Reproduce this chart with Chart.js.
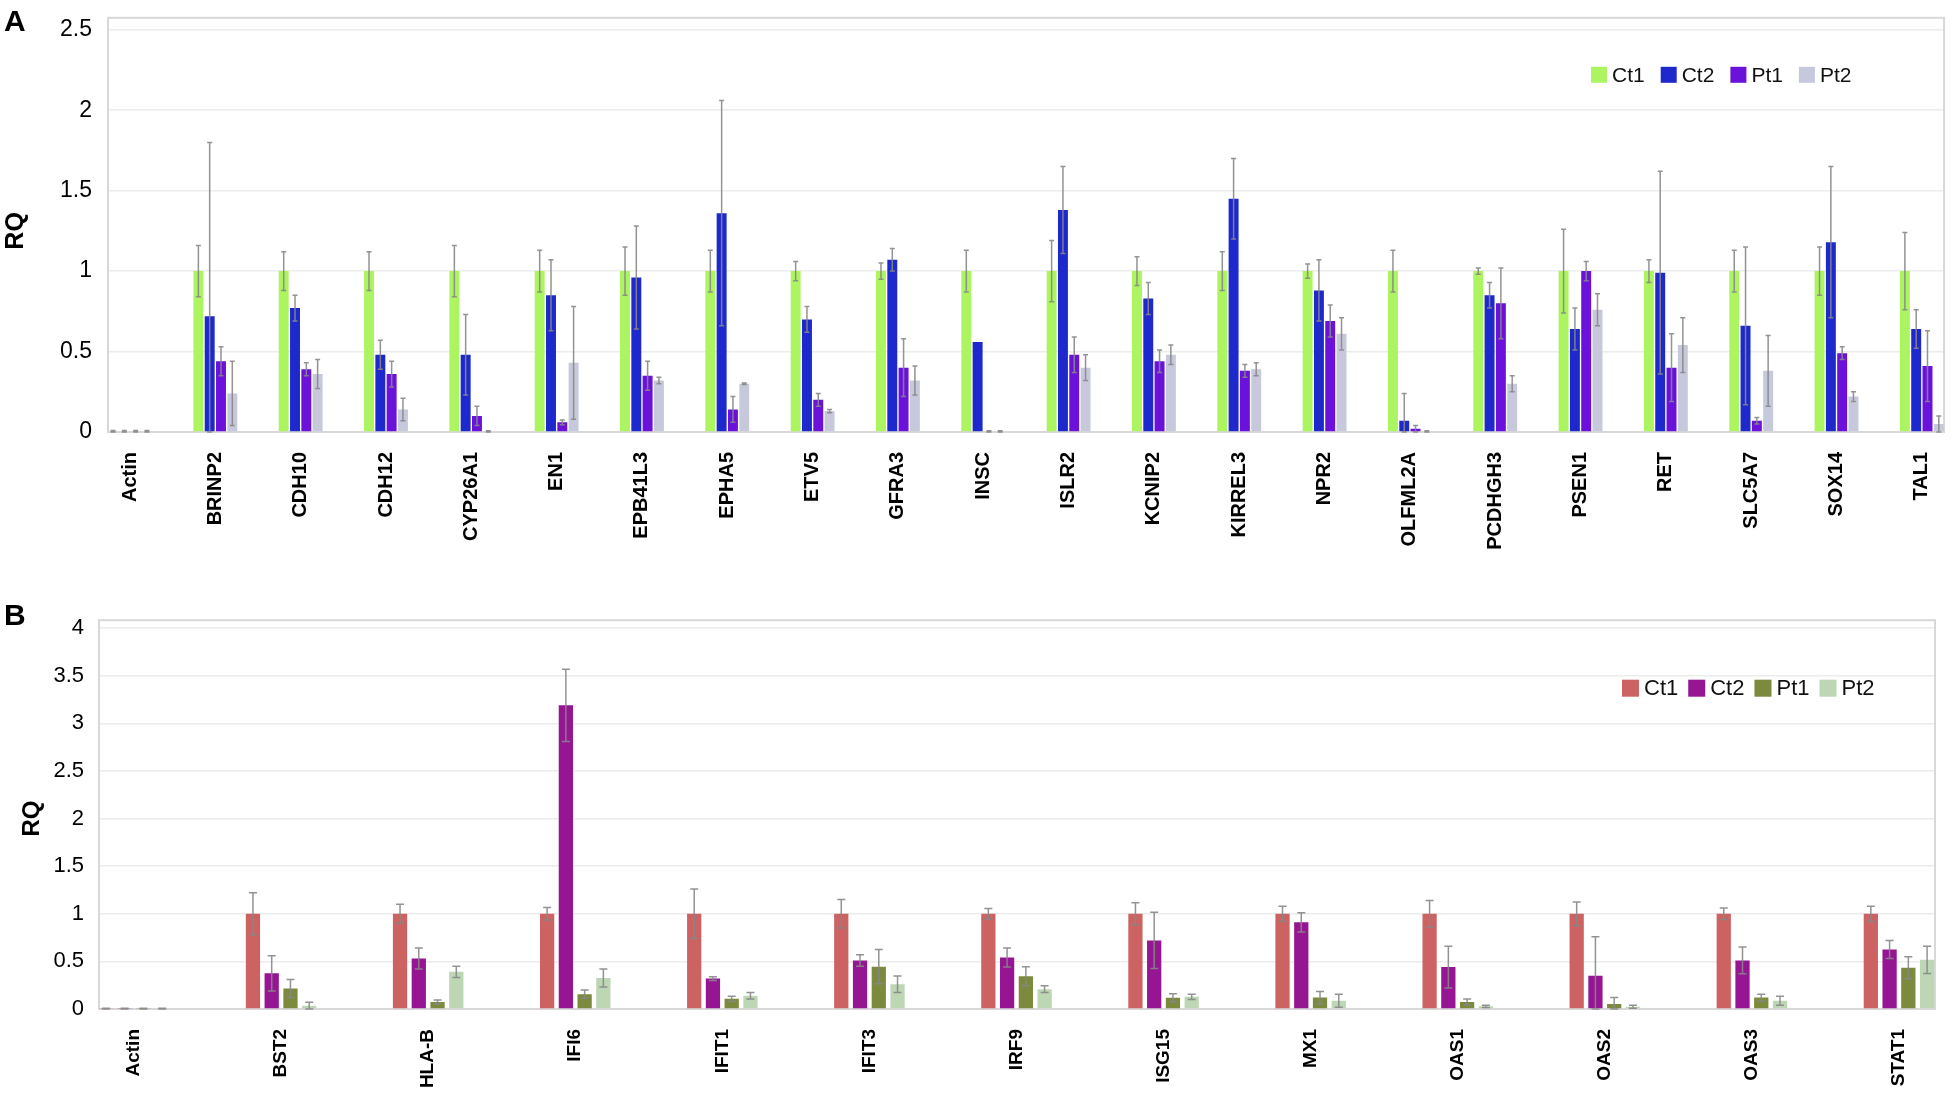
<!DOCTYPE html>
<html>
<head>
<meta charset="utf-8">
<script src="https://cdn.jsdelivr.net/npm/chart.js@4.4.0/dist/chart.umd.min.js"></script>
<style>
  body { margin: 0; background: #fff; width: 1958px; height: 1095px; overflow: hidden; position: relative; font-family: "Liberation Sans", Arial, sans-serif; }
  .panel { position: absolute; left: 0; width: 1958px; }
  #panelA { top: 0; height: 600px; }
  #panelB { top: 600px; height: 495px; }
  .letter { position: absolute; left: 4px; font-weight: bold; font-size: 30px; line-height: 1; color: #000; }
</style>
</head>
<body>
<div class="panel" id="panelA"><canvas id="chartA" width="1958" height="600"></canvas></div>
<div class="panel" id="panelB"><canvas id="chartB" width="1958" height="495"></canvas></div>
<div class="letter" style="top:6px">A</div>
<div class="letter" style="top:600px">B</div>

<script>
const seriesNames = ['Ct1', 'Ct2', 'Pt1', 'Pt2'];

// panel A
const genesA = ['Actin', 'BRINP2', 'CDH10', 'CDH12', 'CYP26A1', 'EN1', 'EPB41L3', 'EPHA5', 'ETV5', 'GFRA3', 'INSC',
  'ISLR2', 'KCNIP2', 'KIRREL3', 'NPR2', 'OLFML2A', 'PCDHGH3', 'PSEN1', 'RET', 'SLC5A7', 'SOX14', 'TAL1'];
const ct1A = [0.004, 1, 1, 1, 1, 1, 1, 1, 1, 1, 1, 1, 1, 1, 1, 1, 1, 1, 1, 1, 1, 1];
const ct1ErrA = [0.005, 0.16, 0.12, 0.12, 0.16, 0.13, 0.15, 0.13, 0.06, 0.05, 0.13, 0.19, 0.09, 0.12, 0.045, 0.13, 0.02, 0.26, 0.07, 0.13, 0.15, 0.24];
const ct2A = [0.004, 0.72, 0.77, 0.48, 0.48, 0.85, 0.96, 1.36, 0.70, 1.07, 0.56, 1.38, 0.83, 1.45, 0.88, 0.07, 0.85, 0.64, 0.99, 0.66, 1.18, 0.64];
const ct2ErrA = [0.005, 1.08, 0.08, 0.09, 0.25, 0.22, 0.32, 0.70, 0.08, 0.07, 0, 0.27, 0.10, 0.25, 0.19, 0.17, 0.08, 0.13, 0.63, 0.49, 0.47, 0.12];
const pt1A = [0.004, 0.44, 0.39, 0.36, 0.10, 0.06, 0.35, 0.14, 0.20, 0.40, 0.004, 0.48, 0.44, 0.38, 0.69, 0.02, 0.80, 1.0, 0.40, 0.07, 0.49, 0.41];
const pt1ErrA = [0.005, 0.09, 0.04, 0.08, 0.06, 0.015, 0.09, 0.08, 0.04, 0.18, 0.004, 0.11, 0.07, 0.04, 0.10, 0.02, 0.22, 0.06, 0.21, 0.02, 0.04, 0.22];
const pt2A = [0.004, 0.24, 0.36, 0.14, 0.004, 0.43, 0.32, 0.30, 0.13, 0.32, 0.004, 0.40, 0.48, 0.39, 0.61, 0.004, 0.30, 0.76, 0.54, 0.38, 0.22, 0.05];
const pt2ErrA = [0.005, 0.20, 0.09, 0.07, 0.004, 0.35, 0.02, 0.005, 0.01, 0.09, 0.004, 0.08, 0.06, 0.04, 0.10, 0.004, 0.05, 0.10, 0.17, 0.22, 0.03, 0.05];
const colorsA = ['#adf461', '#1d29cc', '#6a12d9', '#c6c9dc'];

// panel B
const genesB = ['Actin', 'BST2', 'HLA-B', 'IFI6', 'IFIT1', 'IFIT3', 'IRF9', 'ISG15', 'MX1', 'OAS1', 'OAS2', 'OAS3', 'STAT1'];
const ct1B = [0.004, 1, 1, 1, 1, 1, 1, 1, 1, 1, 1, 1, 1];
const ct1ErrB = [0.005, 0.22, 0.10, 0.065, 0.26, 0.15, 0.055, 0.115, 0.08, 0.14, 0.125, 0.06, 0.08];
const ct2B = [0.004, 0.375, 0.53, 3.19, 0.32, 0.51, 0.54, 0.72, 0.91, 0.44, 0.35, 0.51, 0.625];
const ct2ErrB = [0.005, 0.185, 0.11, 0.38, 0.02, 0.06, 0.10, 0.295, 0.10, 0.22, 0.41, 0.14, 0.095];
const pt1B = [0.004, 0.215, 0.073, 0.156, 0.108, 0.444, 0.344, 0.118, 0.12, 0.073, 0.052, 0.12, 0.434];
const pt1ErrB = [0.005, 0.095, 0.021, 0.044, 0.027, 0.18, 0.10, 0.042, 0.064, 0.031, 0.068, 0.036, 0.116];
const pt2B = [0.004, 0.035, 0.39, 0.326, 0.14, 0.26, 0.208, 0.128, 0.087, 0.028, 0.024, 0.087, 0.517];
const pt2ErrB = [0.005, 0.035, 0.06, 0.094, 0.034, 0.087, 0.035, 0.028, 0.069, 0.012, 0.016, 0.048, 0.143];
const colorsB = ['#cd6262', '#951593', '#7b8a3c', '#bdd7b5'];

Chart.defaults.font.family = '"Liberation Sans", Arial, sans-serif';

// error whiskers, placed with the chart's own y scale
const errorBars = {
  id: 'errorBars',
  afterDatasetsDraw(chart, args, opts) {
    const ctx = chart.ctx;
    const yScale = chart.scales.y;
    ctx.save();
    ctx.strokeStyle = opts.color;
    ctx.lineWidth = opts.width;
    chart.data.datasets.forEach((ds, i) => {
      chart.getDatasetMeta(i).data.forEach((bar, j) => {
        const v = ds.data[j].y;
        const e = ds.errors[j];
        if (!e) return;
        const top = yScale.getPixelForValue(v + e);
        const bot = yScale.getPixelForValue(Math.max(0, v - e));
        ctx.beginPath();
        ctx.moveTo(bar.x, top); ctx.lineTo(bar.x, bot);
        ctx.moveTo(bar.x - opts.cap, top); ctx.lineTo(bar.x + opts.cap, top);
        ctx.moveTo(bar.x - opts.cap, bot); ctx.lineTo(bar.x + opts.cap, bot);
        ctx.stroke();
      });
    });
    ctx.restore();
  }
};

// box around the plot and the little key in its top right corner
const frameAndKey = {
  id: 'frameAndKey',
  beforeDatasetsDraw(chart, args, opts) {
    const a = chart.chartArea;
    const ctx = chart.ctx;
    ctx.save();
    ctx.strokeStyle = '#d8d8d8';
    ctx.lineWidth = 2;
    ctx.strokeRect(a.left, a.top - opts.frameTop, a.right - a.left, a.bottom - a.top + opts.frameTop);
    ctx.restore();
  },
  afterDraw(chart, args, opts) {
    const a = chart.chartArea;
    const ctx = chart.ctx;
    let x = a.right - opts.keyRight;
    const yc = a.top + opts.keyTop;
    ctx.save();
    ctx.font = opts.keyFont;
    ctx.textBaseline = 'middle';
    chart.data.datasets.forEach(ds => {
      ctx.fillStyle = ds.backgroundColor;
      ctx.fillRect(x, yc - opts.box / 2, opts.box, opts.box);
      x += opts.box + 5;
      ctx.fillStyle = '#111';
      ctx.fillText(ds.label, x, yc + 1);
      x += ctx.measureText(ds.label).width + opts.gap;
    });
    ctx.restore();
  }
};

function buildChart(id, genes, values, errors, colors, look) {
  return new Chart(document.getElementById(id), {
    type: 'bar',
    data: {
      datasets: values.map((vals, i) => ({
        label: seriesNames[i],
        data: vals.map((v, j) => ({ x: j, y: v })),
        errors: errors[i],
        backgroundColor: colors[i],
        categoryPercentage: look.cat,
        barPercentage: look.bar
      }))
    },
    options: {
      responsive: false,
      animation: false,
      layout: { padding: { top: look.top, right: look.right, left: 0, bottom: 0 } },
      plugins: {
        legend: { display: false },
        tooltip: { enabled: false },
        errorBars: { color: 'rgba(135,135,135,0.9)', width: 1.5, cap: look.cap },
        frameAndKey: { frameTop: look.frameTop, keyRight: look.keyRight, keyTop: look.keyTop,
          keyFont: look.keyFont, box: look.box, gap: look.gap }
      },
      scales: {
        x: {
          type: 'linear',
          offset: false,
          min: look.xMin,
          max: look.xMax,
          grid: { display: false, offset: false },
          border: { display: false },
          afterBuildTicks: s => { s.ticks = genes.map((g, j) => ({ value: j })); },
          afterFit: s => { s.height = look.xHeight; },
          ticks: {
            autoSkip: false, maxRotation: 90, minRotation: 90, padding: look.xPad, color: '#000',
            font: { size: look.xFont, weight: 'bold' },
            callback: v => genes[v]
          }
        },
        y: {
          min: 0,
          max: look.yMax,
          afterFit: s => { s.width = look.yWidth; },
          grid: { color: '#ececec', lineWidth: 1.5, drawTicks: false },
          border: { display: false },
          ticks: { stepSize: 0.5, padding: look.yPad, color: '#000', font: { size: look.yFont },
            callback: v => String(v) },
          title: { display: true, text: 'RQ', color: '#000', font: { size: look.titleFont, weight: 'bold' },
            padding: { top: look.titlePad, bottom: 0 } }
        }
      }
    },
    plugins: [errorBars, frameAndKey]
  });
}

buildChart('chartA', genesA, [ct1A, ct2A, pt1A, pt2A], [ct1ErrA, ct2ErrA, pt1ErrA, pt2ErrA], colorsA, {
  top: 23, right: 13, yWidth: 108, xHeight: 168, xMin: -0.258, xMax: 21.26, yMax: 2.5,
  cat: 0.53, bar: 0.88, cap: 2.5, xPad: 12, xFont: 20, yPad: 16, yFont: 23, titleFont: 25, titlePad: 1,
  frameTop: 12, keyRight: 353, keyTop: 45, keyFont: '21px "Liberation Sans", Arial, sans-serif', box: 16, gap: 16
});

buildChart('chartB', genesB, [ct1B, ct2B, pt1B, pt2B], [ct1ErrB, ct2ErrB, pt1ErrB, pt2ErrB], colorsB, {
  top: 24, right: 23, yWidth: 99, xHeight: 86, xMin: -0.238, xMax: 12.245, yMax: 4,
  cat: 0.51, bar: 0.76, cap: 4, xPad: 12, xFont: 19, yPad: 15, yFont: 22, titleFont: 24, titlePad: 18,
  frameTop: 8, keyRight: 313, keyTop: 60, keyFont: '22px "Liberation Sans", Arial, sans-serif', box: 17, gap: 10
});
</script>
</body>
</html>
